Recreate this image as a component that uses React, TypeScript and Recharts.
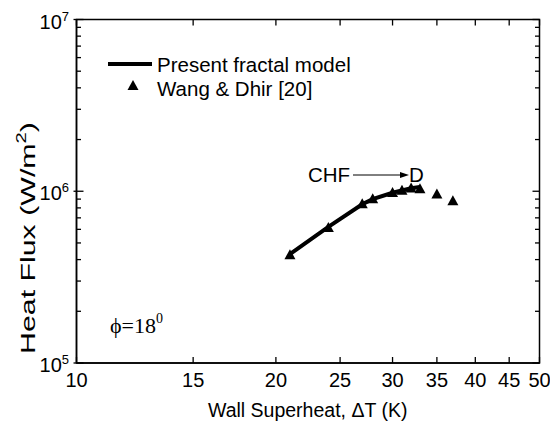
import React from 'react';
import { ComposedChart, Line, Scatter, XAxis, YAxis } from 'recharts';

// ---- data ----
const modelDeltaT = [21, 24, 27, 28, 30, 32, 33];
const modelHeatFlux = [4.3e5, 6.2e5, 8.4e5, 9.0e5, 9.8e5, 1.04e6, 1.06e6];
const expDeltaT = [21, 24, 27, 28, 30, 31, 32, 33, 35, 37];
const expHeatFlux = [4.3e5, 6.2e5, 8.5e5, 9.1e5, 9.9e5, 1.02e6, 1.05e6, 1.04e6, 9.7e5, 8.85e5];
const xTicks = [10, 15, 20, 25, 30, 35, 40, 45, 50];
const yTicks = [
  1e5, 2e5, 3e5, 4e5, 5e5, 6e5, 7e5, 8e5, 9e5,
  1e6, 2e6, 3e6, 4e6, 5e6, 6e6, 7e6, 8e6, 9e6, 1e7,
];
const yDecadeExponents: Record<number, string> = { 100000: '5', 1000000: '6', 10000000: '7' };
const seriesNames = ['Present fractal model', 'Wang & Dhir [20]'];

const modelData = modelDeltaT.map((t, i) => ({ t, q: modelHeatFlux[i] }));
const expData = expDeltaT.map((t, i) => ({ t, q: expHeatFlux[i] }));

// ---- layout ----
const W = 550;
const H = 429;
const PLOT_LEFT = 76.5;
const PLOT_RIGHT = 539.5;
const PLOT_TOP = 19.5;
const PLOT_BOTTOM = 363;
const FONT = '"Liberation Sans", Arial, Helvetica, sans-serif';
const SERIF = '"Liberation Serif", "Times New Roman", serif';
const TICK_W = 1.3;

const isDecade = (v: number) => yDecadeExponents[v] !== undefined;

const YTick = (props: any) => {
  const { y, payload } = props;
  const v = payload.value;
  const major = isDecade(v);
  const len = major ? 7 : 4.5;
  return (
    <g>
      <line x1={major ? PLOT_LEFT - 3 : PLOT_LEFT} x2={PLOT_LEFT + len} y1={y} y2={y} stroke="#000" strokeWidth={TICK_W} />
      <line x1={PLOT_RIGHT - len} x2={PLOT_RIGHT} y1={y} y2={y} stroke="#000" strokeWidth={TICK_W} />
      {major && (
        <text x={69} y={y + 9} textAnchor="end" fontFamily={FONT} fontSize={20} fill="#000">
          10
          <tspan dy={-8} fontSize={13}>{yDecadeExponents[v]}</tspan>
        </text>
      )}
    </g>
  );
};

const XTick = (props: any) => {
  const { x, payload } = props;
  return (
    <g>
      <line x1={x} x2={x} y1={PLOT_BOTTOM - 6} y2={PLOT_BOTTOM} stroke="#000" strokeWidth={TICK_W} />
      <line x1={x} x2={x} y1={PLOT_TOP} y2={PLOT_TOP + 6} stroke="#000" strokeWidth={TICK_W} />
      <text x={x} y={387} textAnchor="middle" fontFamily={FONT} fontSize={20} fill="#000">
        {payload.value}
      </text>
    </g>
  );
};

const Triangle = (props: any) => {
  const { cx, cy } = props;
  if (cx == null || cy == null) return null;
  return <polygon points={`${cx},${cy - 5} ${cx - 5.5},${cy + 5} ${cx + 5.5},${cy + 5}`} fill="#000" />;
};

export default function App() {
  return (
    <div style={{ position: 'absolute', left: 0, top: 0, width: W, height: H, background: '#fff' }}>
      <ComposedChart
        width={W}
        height={H}
        margin={{ top: PLOT_TOP, right: W - PLOT_RIGHT, bottom: 0, left: 0 }}
      >
        <XAxis
          dataKey="t"
          type="number"
          scale="log"
          domain={[10, 50]}
          allowDataOverflow
          ticks={xTicks}
          interval={0}
          height={H - PLOT_BOTTOM}
          tickLine={false}
          tickSize={0}
          tick={<XTick />}
          axisLine={{ stroke: '#000', strokeWidth: 1.5 }}
        />
        <YAxis
          dataKey="q"
          type="number"
          scale="log"
          domain={[1e5, 1e7]}
          allowDataOverflow
          ticks={yTicks}
          interval={0}
          width={PLOT_LEFT}
          tickLine={false}
          tickSize={0}
          tick={<YTick />}
          axisLine={{ stroke: '#000', strokeWidth: 1.5 }}
        />
        <Line
          data={modelData}
          dataKey="q"
          name={seriesNames[0]}
          type="linear"
          stroke="#000"
          strokeWidth={4}
          dot={false}
          activeDot={false}
          isAnimationActive={false}
        />
        <Scatter
          data={expData}
          dataKey="q"
          name={seriesNames[1]}
          fill="#000"
          shape={<Triangle />}
          isAnimationActive={false}
        />
      </ComposedChart>
      <svg
        width={W}
        height={H}
        style={{ position: 'absolute', left: 0, top: 0, pointerEvents: 'none' }}
      >
        {/* plot frame */}
        <rect
          x={PLOT_LEFT}
          y={PLOT_TOP}
          width={PLOT_RIGHT - PLOT_LEFT}
          height={PLOT_BOTTOM - PLOT_TOP}
          fill="none"
          stroke="#000"
          strokeWidth={1.5}
        />
        {/* legend */}
        <line x1={108} x2={152} y1={64} y2={64} stroke="#000" strokeWidth={4} />
        <text x={157} y={72} fontFamily={FONT} fontSize={20.5} fill="#000">{seriesNames[0]}</text>
        <polygon points="133,80 127.5,90 138.5,90" fill="#000" />
        <text x={157} y={96} fontFamily={FONT} fontSize={20.5} fill="#000">{seriesNames[1]}</text>
        {/* CHF annotation */}
        <text x={308} y={182} fontFamily={FONT} fontSize={20.5} fill="#000">CHF</text>
        <line x1={353} x2={402} y1={175} y2={175} stroke="#000" strokeWidth={1} />
        <polygon points="409,175 400,172 400,178" fill="#000" />
        <text x={409} y={182} fontFamily={FONT} fontSize={20.5} fill="#000">D</text>
        {/* angle label */}
        <text x={110} y={333} fontFamily={SERIF} fontSize={22} fill="#000">
          ϕ=18
          <tspan dy={-10} fontSize={14}>0</tspan>
        </text>
        {/* axis titles */}
        <text x={307.7} y={417} textAnchor="middle" fontFamily={FONT} fontSize={19.5} fill="#000">
          Wall Superheat, ΔT (K)
        </text>
        <text
          transform="translate(35,238) rotate(-90)"
          textAnchor="middle"
          fontFamily={FONT}
          fontSize={21}
          fill="#000"
          textLength={232}
          lengthAdjust="spacingAndGlyphs"
        >
          Heat Flux (W/m
          <tspan dy={-9} fontSize={14}>2</tspan>
          <tspan dy={9}>)</tspan>
        </text>
      </svg>
    </div>
  );
}
